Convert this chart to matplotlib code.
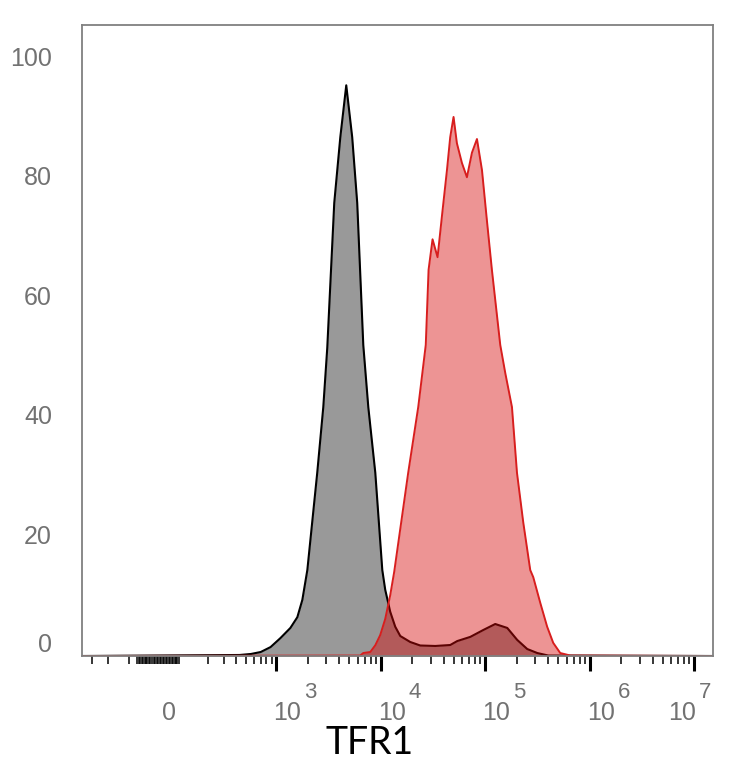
import numpy as np
import matplotlib
matplotlib.use("Agg")
import matplotlib.pyplot as plt

# ---------------- data ----------------
# x values are log10(TFR1 intensity), y values are % of max
gray_log10 = [2.637, 2.751, 2.847, 2.943, 3.038, 3.134, 3.201, 3.249, 3.297,
              3.392, 3.450, 3.488, 3.555, 3.613, 3.670, 3.727, 3.775, 3.833,
              3.881, 3.948, 4.015, 4.043, 4.091, 4.139, 4.187, 4.282, 4.378,
              4.522, 4.665, 4.732, 4.857, 4.981, 5.096, 5.211, 5.306, 5.402,
              5.498, 5.603]
gray_pct = [0.17, 0.34, 0.67, 1.5, 3.0, 4.7, 6.5, 9.4, 14.4,
            30.7, 41.7, 51.6, 75.9, 86.9, 95.6, 86.9, 75.9, 52.1,
            41.7, 30.7, 14.4, 11.1, 7.4, 4.9, 3.35, 2.35, 1.76,
            1.68, 1.84, 2.5, 3.2, 4.35, 5.36, 4.7, 2.7, 1.17,
            0.5, 0.08]

red_log10 = [3.804, 3.833, 3.900, 3.948, 3.995, 4.043, 4.091, 4.129, 4.263,
             4.359, 4.431, 4.458, 4.496, 4.544, 4.589, 4.634, 4.665, 4.697,
             4.729, 4.777, 4.825, 4.873, 4.921, 4.969, 5.016, 5.064, 5.144,
             5.192, 5.256, 5.304, 5.364, 5.431, 5.460, 5.527, 5.593, 5.651,
             5.718, 5.814]
red_pct = [0.08, 0.5, 0.67, 1.8, 3.5, 6.2, 10.2, 14.1, 30.7,
           41.7, 52.1, 64.7, 69.8, 66.8, 74.2, 81.4, 86.9, 90.3,
           85.9, 82.6, 80.2, 84.3, 86.6, 81.4, 73.0, 64.7, 52.1,
           47.4, 41.7, 30.7, 22.4, 14.4, 13.2, 8.9, 4.9, 2.2,
           0.5, 0.08]

x_min, x_max = -382.0, 1.504e7
y_max = 105.7

x_tick_values = [0, 1e3, 1e4, 1e5, 1e6, 1e7]
x_tick_exps = ["", "3", "4", "5", "6", "7"]
y_tick_values = [0, 20, 40, 60, 80, 100]
x_label = "TFR1"

# ---------------- scale ----------------
C2 = 148.0
def fwd(v):
    return np.arcsinh(np.asarray(v, dtype=float) / C2) / np.log(10)
def inv(u):
    return C2 * np.sinh(np.asarray(u, dtype=float) * np.log(10))

gx = np.concatenate([[x_min], 10 ** np.array(gray_log10), [x_max]])
gy = np.concatenate([[0.0], gray_pct, [0.0]])
rx = np.concatenate([[x_min], 10 ** np.array(red_log10), [x_max]])
ry = np.concatenate([[0.0], red_pct, [0.0]])

fig = plt.figure(figsize=(7.34, 7.68), dpi=100)
ax = fig.add_axes([82 / 734, 1 - 656 / 768, 630.7 / 734, 631 / 768])
ax.set_xscale('function', functions=(fwd, inv))
ax.set_xlim(x_min, x_max)
ax.set_ylim(0, y_max)

ax.fill_between(gx, gy, 0, color='#999999', lw=0, zorder=1)
ax.plot(gx, gy, color='black', lw=1.5, zorder=2, solid_joinstyle='round')
ax.fill_between(rx, ry, 0, color=(215/255, 8/255, 8/255), alpha=0.43, lw=0, zorder=3)
ax.plot(rx, ry, color='#d81e1e', lw=1.4, zorder=4, solid_joinstyle='round')

for s in ax.spines.values():
    s.set_color('#808080')
    s.set_linewidth(1.3)
    s.set_zorder(5)

# ticks
major_ticks = [1e3, 1e4, 1e5, 1e6, 1e7]
minor_ticks = list(np.arange(-70, 71, 5)) + [-100, -200, -300]
for k in range(2, 7):
    minor_ticks += [m * 10 ** k for m in range(2, 10)]
minor_ticks = [t for t in minor_ticks if x_min < t < x_max]
ax.set_xticks(major_ticks)
ax.set_xticks(minor_ticks, minor=True)
ax.tick_params(axis='x', which='major', length=10.8, width=2.2, color='black',
               direction='out', labelbottom=False)
ax.tick_params(axis='x', which='minor', length=5.8, width=1.1, color='black',
               direction='out')
ax.set_yticks([])
ax.tick_params(axis='y', length=0, labelleft=False)

lab_font = dict(family=['Liberation Sans', 'DejaVu Sans'], color='#727272')
for i, (v, e) in enumerate(zip(x_tick_values, x_tick_exps)):
    dx = 11 if i < len(x_tick_values) - 1 else -12
    if e == "":
        ax.annotate("0", xy=(v, 0), xycoords=('data', 'axes fraction'),
                    xytext=(dx, -57), textcoords='offset pixels',
                    ha='center', va='center', fontsize=18, **lab_font)
    else:
        ax.annotate("10", xy=(v, 0), xycoords=('data', 'axes fraction'),
                    xytext=(dx, -57), textcoords='offset pixels',
                    ha='center', va='center', fontsize=18, **lab_font)
        ax.annotate(e, xy=(v, 0), xycoords=('data', 'axes fraction'),
                    xytext=(dx + 17, -36), textcoords='offset pixels',
                    ha='left', va='center', fontsize=16, **lab_font)

for v in y_tick_values:
    dy = 11 if v == 0 else 0
    ax.annotate(str(v), xy=(0, v), xycoords=('axes fraction', 'data'),
                xytext=(-30, dy), textcoords='offset pixels',
                ha='right', va='center', fontsize=18, **lab_font)

fig.text(370 / 734, 1 - 743 / 768, x_label, ha='center', va='center',
         fontsize=27, family=['Lato', 'DejaVu Sans'], color='black')

fig.savefig('out.png', dpi=100)
